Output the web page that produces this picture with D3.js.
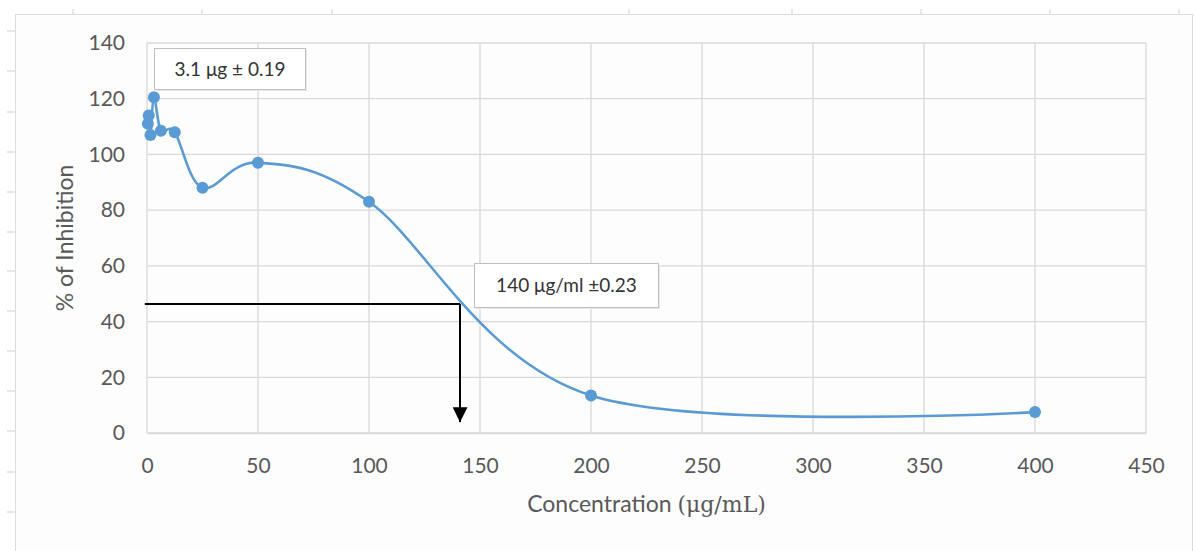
<!DOCTYPE html>
<html>
<head>
<meta charset="utf-8">
<script src="https://cdn.jsdelivr.net/npm/d3@7"></script>
<style>
  body { margin: 0; background: #fff; }
  svg { display: block; }
  .tick text { font-family: Lato, "Open Sans", sans-serif; font-size: 21px; fill: #595959; }
</style>
</head>
<body>
<div id="chart"></div>
<script>
// concentration (µg/mL) and % inhibition
const concentrations = [0.39, 0.78, 1.56, 3.125, 6.25, 12.5, 25, 50, 100, 200, 400];
const inhibition = [111, 114, 107, 120.5, 108.5, 108, 88, 97, 83, 13.5, 7.5];
const xTicks = [0, 50, 100, 150, 200, 250, 300, 350, 400, 450];
const yTicks = [0, 20, 40, 60, 80, 100, 120, 140];

// IC50 guide: horizontal at 46.3 %, arrow down at 141 µg/mL
const ic50 = { conc: 141, inh: 46.3, arrowTo: 3.9 };

const W = 1194, H = 551;
const blue = "#5b9bd5";
const grid = "#d9d9d9";

const svg = d3.select("#chart").append("svg")
    .attr("width", W)
    .attr("height", H);

// outer frame with ruler ticks
svg.append("rect")
    .attr("x", 15.5).attr("y", 14.5)
    .attr("width", 1177).attr("height", 545)
    .attr("fill", "#fdfdfd")
    .attr("stroke", "#dcdcdc");

[73, 202, 332, 629, 792, 921, 1050, 1179].forEach(px => {
    svg.append("line")
        .attr("x1", px).attr("x2", px).attr("y1", 9).attr("y2", 14)
        .attr("stroke", "#d0d0d0");
});
[31, 71, 112, 152, 192, 232, 271, 311, 351, 391, 431, 472, 512].forEach(py => {
    svg.append("line")
        .attr("x1", 7).attr("x2", 15).attr("y1", py).attr("y2", py)
        .attr("stroke", "#d0d0d0");
});

const x = d3.scaleLinear().domain([0, 450]).range([147, 1146]);
const y = d3.scaleLinear().domain([0, 140]).range([433, 43]);

// gridlines
svg.append("g").selectAll("line")
    .data(yTicks)
    .join("line")
    .attr("x1", x(0)).attr("x2", x(450))
    .attr("y1", d => y(d)).attr("y2", d => y(d))
    .attr("stroke", grid).attr("stroke-width", 1.3);

svg.append("g").selectAll("line")
    .data(xTicks)
    .join("line")
    .attr("x1", d => x(d)).attr("x2", d => x(d))
    .attr("y1", y(0)).attr("y2", y(140))
    .attr("stroke", grid).attr("stroke-width", 1.3);

// axes (labels only)
const xAxis = svg.append("g")
    .attr("transform", `translate(0,${y(0)})`)
    .call(d3.axisBottom(x).tickValues(xTicks).tickSize(0).tickPadding(25));
xAxis.select(".domain").attr("stroke", grid).attr("stroke-width", 1.3);

const yAxis = svg.append("g")
    .attr("transform", `translate(${x(0)},0)`)
    .call(d3.axisLeft(y).tickValues(yTicks).tickSize(0).tickPadding(22));
yAxis.select(".domain").remove();

// axis titles
svg.append("text")
    .attr("transform", `translate(73,${(y(0) + y(140)) / 2}) rotate(-90)`)
    .attr("text-anchor", "middle")
    .attr("font-family", "Lato, 'Open Sans', sans-serif")
    .attr("font-size", 23)
    .attr("fill", "#595959")
    .text("% of Inhibition");

const xt = svg.append("text")
    .attr("x", (x(0) + x(450)) / 2)
    .attr("y", 512)
    .attr("text-anchor", "middle")
    .attr("font-family", "Lato, 'Open Sans', sans-serif")
    .attr("font-size", 23)
    .attr("fill", "#595959");
xt.append("tspan").text("Concentration ");
xt.append("tspan").attr("font-family", "'DejaVu Serif', 'Liberation Serif', serif").attr("font-size", 22).text("(μg/mL)");

// smoothed line + markers
const pts = concentrations.map((c, i) => [c, inhibition[i]]);
const line = d3.line()
    .x(d => x(d[0]))
    .y(d => y(d[1]))
    .curve(d3.curveCardinal.tension(0));

svg.append("path")
    .datum(pts)
    .attr("d", line)
    .attr("fill", "none")
    .attr("stroke", blue)
    .attr("stroke-width", 2.6)
    .attr("stroke-linejoin", "round");

svg.append("g").selectAll("circle")
    .data(pts)
    .join("circle")
    .attr("cx", d => x(d[0]))
    .attr("cy", d => y(d[1]))
    .attr("r", 6)
    .attr("fill", blue);

// IC50 guide lines
svg.append("defs").append("marker")
    .attr("id", "arrow")
    .attr("viewBox", "0 0 10 10")
    .attr("refX", 10).attr("refY", 5)
    .attr("markerWidth", 7.5).attr("markerHeight", 7.5)
    .attr("markerUnits", "strokeWidth")
    .attr("orient", "auto")
    .append("path")
    .attr("d", "M0,0 L10,5 L0,10 z")
    .attr("fill", "#000");

svg.append("line")
    .attr("x1", x(-1)).attr("x2", x(ic50.conc))
    .attr("y1", y(ic50.inh)).attr("y2", y(ic50.inh))
    .attr("stroke", "#000").attr("stroke-width", 2);

svg.append("line")
    .attr("x1", x(ic50.conc)).attr("x2", x(ic50.conc))
    .attr("y1", y(ic50.inh)).attr("y2", y(ic50.arrowTo))
    .attr("stroke", "#000").attr("stroke-width", 2)
    .attr("marker-end", "url(#arrow)");

// text boxes
function textBox(bx, by, bw, bh, label) {
    svg.append("rect")
        .attr("x", bx + 1.5).attr("y", by + 1.5)
        .attr("width", bw).attr("height", bh)
        .attr("fill", "#e8e8e8");
    svg.append("rect")
        .attr("x", bx).attr("y", by)
        .attr("width", bw).attr("height", bh)
        .attr("fill", "#fff")
        .attr("stroke", "#bfbfbf");
    svg.append("text")
        .attr("x", bx + bw / 2)
        .attr("y", by + bh / 2)
        .attr("dy", "0.35em")
        .attr("text-anchor", "middle")
        .attr("font-family", "Lato, 'Open Sans', sans-serif")
        .attr("font-size", 19)
        .attr("fill", "#333")
        .text(label);
}
textBox(154.5, 48.5, 151, 41, "3.1 μg ± 0.19");
textBox(474.5, 263.5, 184, 44, "140 μg/ml ±0.23");
</script>
</body>
</html>
